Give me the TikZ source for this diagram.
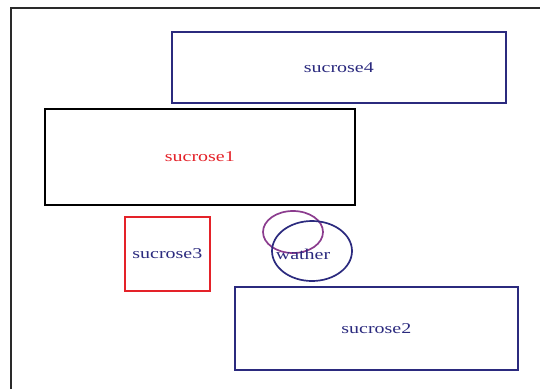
\documentclass[tikz,border=0pt]{standalone}
\usepackage{fontspec}
\setmainfont{Liberation Serif}
\usetikzlibrary{shapes.geometric}
\definecolor{navy}{HTML}{2B2A7E}
\definecolor{brightred}{HTML}{E42229}
\definecolor{plum}{HTML}{8B3C8E}
\definecolor{framegray}{HTML}{2A2A2A}
\newcommand{\lbl}[1]{\scalebox{1.33}[1]{#1}}
\tikzset{
  box/.style={draw, rectangle, line width=1.7pt, inner sep=0pt, anchor=north west,
    font=\fontsize{15}{15}\selectfont},
  oval/.style={draw, ellipse, line width=1.7pt, inner sep=0pt},
  tag/.style={font=\fontsize{15}{15}\selectfont, inner sep=0pt},
}
\begin{document}
\begin{tikzpicture}[x=1pt,y=-1pt]
\useasboundingbox (0,0) rectangle (540,389);
% frame
\draw[framegray, line width=1.4pt] (11,389) -- (11,8) -- (540,8);
% boxes
\node[box, draw=navy, text=navy, minimum width=334pt, minimum height=71pt] (s4) at (171,31) {\lbl{sucrose4}};
\node[box, draw=black, text=brightred, minimum width=310pt, minimum height=96pt] (s1) at (44,108) {\lbl{sucrose1}};
\node[box, draw=brightred, text=navy, minimum width=85pt, minimum height=74pt] (s3) at (124,216) {\lbl{sucrose3}};
\node[box, draw=navy, text=navy, minimum width=283pt, minimum height=83pt] (s2) at (234,286) {\lbl{sucrose2}};
% ellipses
\node[oval, draw=plum, minimum width=60pt, minimum height=42pt] (e1) at (293,232) {};
\node[oval, draw=navy, minimum width=80pt, minimum height=60pt] (e2) at (312,251) {};
\node[tag, text=navy] (w) at (303,254) {\lbl{wather}};
\end{tikzpicture}
\end{document}
